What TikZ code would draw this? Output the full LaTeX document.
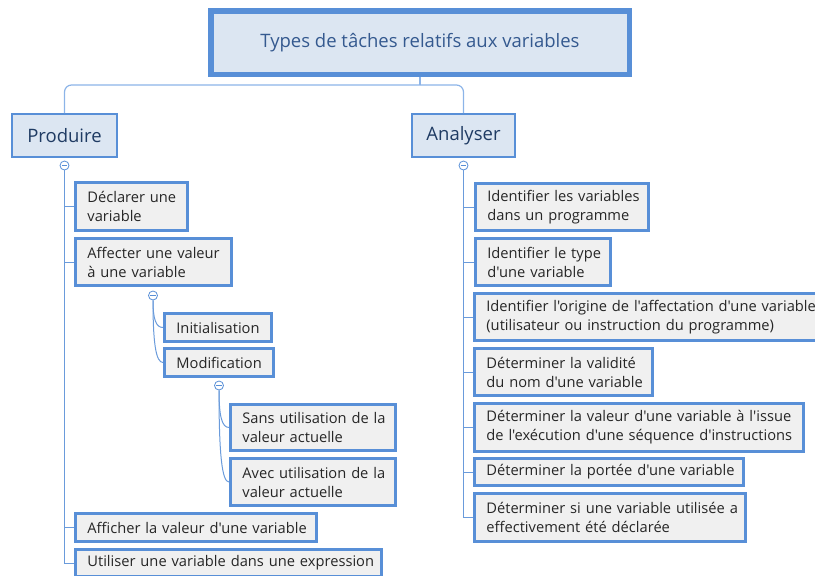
\documentclass[tikz,border=0pt]{standalone}
\usepackage{fontspec}
\setmainfont{Open Sans}[Ligatures=TeXOff]
\usetikzlibrary{calc}
\definecolor{bord}{HTML}{588FD7}
\definecolor{leaffill}{HTML}{F0F0F0}
\definecolor{mainfill}{HTML}{DCE6F2}
\definecolor{leaftext}{HTML}{262626}
\definecolor{titletext}{HTML}{34598F}
\definecolor{maintext}{HTML}{1F3B63}
\definecolor{connc}{HTML}{6A9BDB}
\definecolor{topc}{HTML}{8CB4E8}
\newcommand\leafbox[6]{%
  \pgfmathsetmacro\lbW{#4-#2-2.8}%
  \pgfmathsetmacro\lbH{#5-#3-2.8}%
  \pgfmathsetmacro\lbT{#4-#2-2.8-24}%
  \node[leaf,minimum width=\lbW pt,minimum height=\lbH pt,text width=\lbT pt] (#1) at ({(#2+#4)/2},{(#3+#5)/2}) {#6};}
\newcommand\lbox[1]{\mbox{#1}}
\begin{document}
\begin{tikzpicture}[x=1pt,y=-1pt,
  leaf/.style={draw=bord, line width=2.8pt, fill=leaffill, text=leaftext,
    font=\fontsize{14.67}{19}\selectfont, align=left, inner xsep=12pt, inner ysep=0pt},
  mainbox/.style={draw=bord, fill=mainfill, text=maintext, inner sep=0pt,
    font=\fontsize{18.5}{22}\selectfont},
  coll/.style={circle, draw=bord, fill=white, line width=0.8pt, minimum size=9pt, inner sep=0pt,
    path picture={\draw[bord,line width=0.8pt] ([xshift=-2.6pt]path picture bounding box.center) -- ([xshift=2.6pt]path picture bounding box.center);}},
  conn/.style={draw=connc, line width=1pt},
  topline/.style={draw=topc, line width=1.2pt}]
\useasboundingbox (0,0) rectangle (815,576);

% title
\node[mainbox, line width=5.5pt, text=titletext, minimum width=418.5pt, minimum height=63.5pt] (title) at (420,42.5) {Types de tâches relatifs aux variables};
\node[mainbox, line width=2.2pt, minimum width=104.8pt, minimum height=42.8pt] (prod) at (64.5,135.5) {Produire};
\node[mainbox, line width=2.2pt, minimum width=102.8pt, minimum height=42.8pt] (anal) at (463.5,135.5) {Analyser};

\coordinate (tj) at (420,85);
\draw[topline] (title.south) -- (tj);
\draw[topline, rounded corners=7pt] (tj) -| (prod.north);
\draw[topline, rounded corners=7pt] (tj) -| (anal.north);

% left leaves
\leafbox{d1}{74}{181}{189}{232}{\lbox{Déclarer une}\\\lbox{variable}}
\leafbox{d2}{74}{237}{233}{287}{\lbox{Affecter une valeur}\\\lbox{à une variable}}
\leafbox{d3}{163}{312}{273}{343}{\lbox{Initialisation}}
\leafbox{d4}{163}{347}{275}{378}{\lbox{Modification}}
\leafbox{d5}{229}{403}{397}{452}{\lbox{Sans utilisation de la}\\\lbox{valeur actuelle}}
\leafbox{d6}{229}{457}{397}{507}{\lbox{Avec utilisation de la}\\\lbox{valeur actuelle}}
\leafbox{d7}{74}{512}{318}{543}{\lbox{Afficher la valeur d'une variable}}
\leafbox{d8}{74}{548}{383}{578}{\lbox{Utiliser une variable dans une expression}}

% right leaves
\leafbox{a1}{474}{182}{650}{232}{\lbox{Identifier les variables}\\\lbox{dans un programme}}
\leafbox{a2}{474}{237}{612}{287}{\lbox{Identifier le type}\\\lbox{d'une variable}}
\leafbox{a3}{473}{292}{822}{342}{\lbox{Identifier l'origine de l'affectation d'une variable}\\\lbox{(utilisateur ou instruction du programme)}}
\leafbox{a4}{473}{347}{654}{397}{\lbox{Déterminer la validité}\\\lbox{du nom d'une variable}}
\leafbox{a5}{473}{402}{805}{453}{\lbox{Déterminer la valeur d'une variable à l'issue}\\\lbox{de l'exécution d'une séquence d'instructions}}
\leafbox{a6}{473}{457}{745}{487}{\lbox{Déterminer la portée d'une variable}}
\leafbox{a7}{473}{492}{747}{543}{\lbox{Déterminer si une variable utilisée a}\\\lbox{effectivement été déclarée}}

% collapse circles
\node[coll] (pc) at (64.5,165.5) {};
\node[coll] (ac) at (463.5,165.5) {};
\node[coll] (fc) at (153,295.5) {};
\node[coll] (mc) at (219,385.5) {};

% trunks
\draw[conn] (pc.south) |- (d8.west);
\foreach \n in {d1,d2,d7} \draw[conn] (pc.south |- \n.west) -- (\n.west);
\draw[conn] (ac.south) |- (a7.west);
\foreach \n in {a1,a2,a3,a4,a5,a6} \draw[conn] (ac.south |- \n.west) -- (\n.west);

% curved branches
\draw[conn] (fc.south) .. controls ($(fc.south)!0.7!(fc.south |- d3.west)$) and ($(d3.west)+(-7,0)$) .. (d3.west);
\draw[conn] (fc.south) .. controls ($(fc.south)!0.7!(fc.south |- d4.west)$) and ($(d4.west)+(-7,0)$) .. (d4.west);
\draw[conn] (mc.south) .. controls ($(mc.south)!0.7!(mc.south |- d5.west)$) and ($(d5.west)+(-7,0)$) .. (d5.west);
\draw[conn] (mc.south) .. controls ($(mc.south)!0.7!(mc.south |- d6.west)$) and ($(d6.west)+(-7,0)$) .. (d6.west);
\end{tikzpicture}
\end{document}
